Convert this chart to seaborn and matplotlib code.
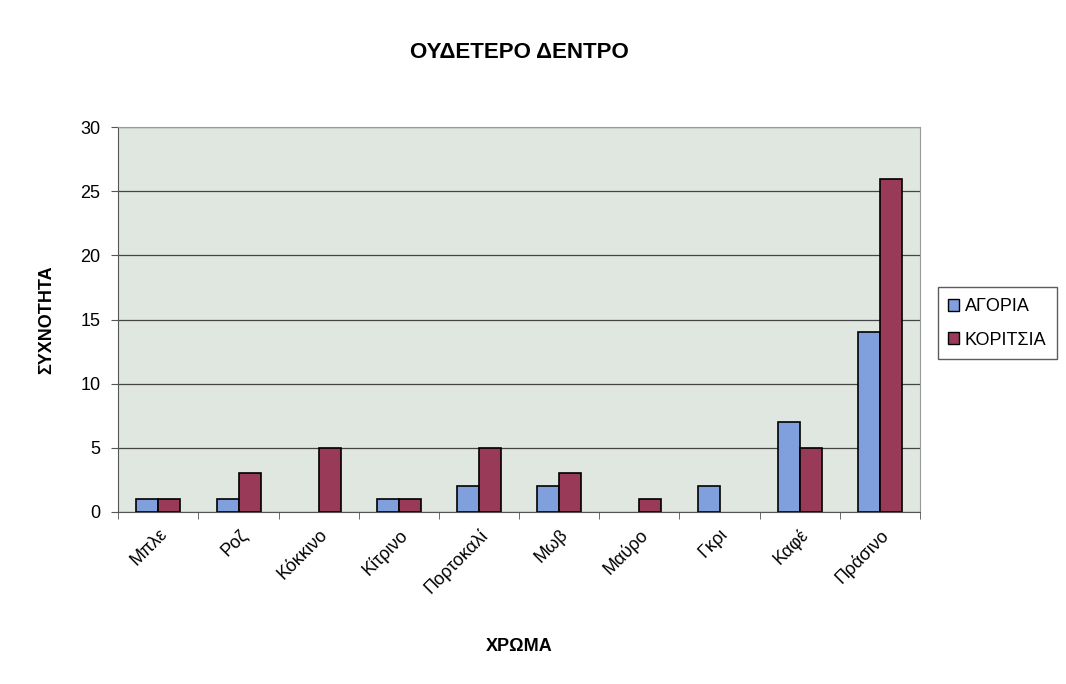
import pandas as pd
import matplotlib.pyplot as plt
from matplotlib.patches import Patch
import numpy as np
import seaborn as sns

colors = ['Μπλε', 'Ροζ', 'Κόκκινο', 'Κίτρινο', 'Πορτοκαλί', 'Μωβ', 'Μαύρο', 'Γκρι', 'Καφέ', 'Πράσινο']
boys = [1, 1, 0, 1, 2, 2, 0, 2, 7, 14]
girls = [1, 3, 5, 1, 5, 3, 1, 0, 5, 26]
groups = ['ΑΓΟΡΙΑ', 'ΚΟΡΙΤΣΙΑ']
palette = ['#7f9fdd', '#993a59']

df = pd.DataFrame({'ΧΡΩΜΑ': colors * 2,
                   'ΣΥΧΝΟΤΗΤΑ': boys + girls,
                   'ομάδα': [groups[0]] * len(colors) + [groups[1]] * len(colors)})

sns.set_style('white')
plt.rcParams['font.family'] = ['Liberation Sans', 'DejaVu Sans']
plt.rcParams['text.color'] = 'black'
plt.rcParams['xtick.color'] = 'black'
plt.rcParams['ytick.color'] = 'black'
plt.rcParams['axes.labelcolor'] = 'black'

fig = plt.figure(figsize=(10.66, 6.84), dpi=100)
ax = fig.add_axes([0.111, 0.2515, 0.752, 0.5625])
ax.set_facecolor('#dfe7e0')

sns.barplot(data=df, x='ΧΡΩΜΑ', y='ΣΥΧΝΟΤΗΤΑ', hue='ομάδα',
            palette=palette, width=0.55, legend=False, saturation=1,
            edgecolor='black', linewidth=1.2, ax=ax, zorder=3)

# hide zero-height bars (no outline line at the baseline)
for p in ax.patches:
    if p.get_height() == 0:
        p.set_visible(False)

ax.set_ylim(0, 30)
ax.set_yticks(range(0, 31, 5))
ax.set_xlim(-0.5, len(colors) - 0.5)
ax.yaxis.grid(True, color='#444444', linewidth=0.9, zorder=0)
ax.set_axisbelow(True)

for s in ['top', 'right']:
    ax.spines[s].set_color('#9a9a9a')
for s in ['left', 'bottom']:
    ax.spines[s].set_color('#555555')

# category boundary ticks like Excel
ax.set_xticks(np.arange(-0.5, len(colors), 1), minor=True)
ax.tick_params(axis='x', which='major', length=0, pad=10)
ax.tick_params(axis='x', which='minor', length=5, color='#555555', direction='out', bottom=True)
ax.tick_params(axis='y', length=5, color='#555555', direction='out', left=True, labelsize=13, pad=8)
ax.set_xticks(range(len(colors)))
ax.set_xticklabels(colors, rotation=45, ha='right', rotation_mode='anchor', fontsize=13)

ax.set_title('ΟΥΔΕΤΕΡΟ ΔΕΝΤΡΟ', fontsize=16, fontweight='bold', pad=50)
ax.set_xlabel('ΧΡΩΜΑ', fontsize=13, fontweight='bold', labelpad=30)
ax.set_ylabel('ΣΥΧΝΟΤΗΤΑ', fontsize=13, fontweight='bold', labelpad=18)

handles = [Patch(facecolor=c, edgecolor='black', linewidth=1.0) for c in palette]
leg = ax.legend(handles, groups, loc='center left', bbox_to_anchor=(1.022, 0.49), frameon=True,
                fancybox=False, edgecolor='#333333', fontsize=13,
                handlelength=0.6, handleheight=0.6, handletextpad=0.3,
                labelspacing=0.9, borderpad=0.6, borderaxespad=0)
leg.get_frame().set_linewidth(1.0)

plt.savefig('out.png', dpi=100, facecolor='white')
